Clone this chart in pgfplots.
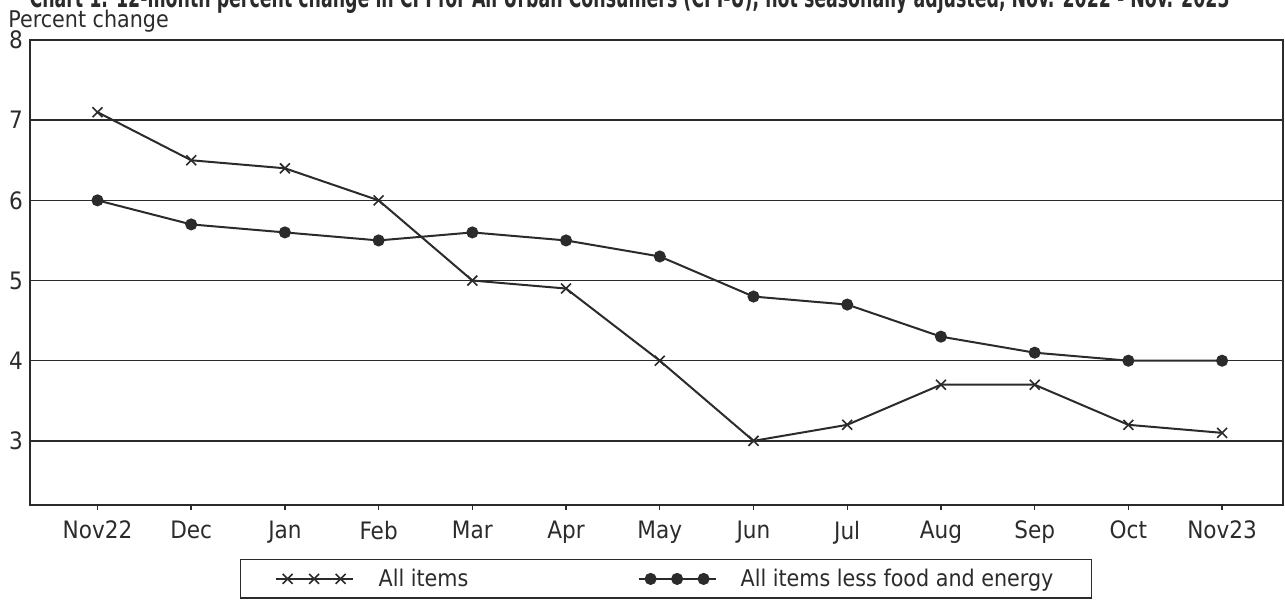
\documentclass[border=0pt]{standalone}
\usepackage{pgfplots}
\pgfplotsset{compat=1.18}
\usepackage{fontspec}
\setmainfont{DejaVu Sans Condensed}
\definecolor{ink}{HTML}{2B2B2B}
\pgfplotsset{
  legX/.style={legend image code/.code={%
    \draw[##1, mark=none] (0pt,0pt) -- (38.5pt,0pt);
    \draw[##1, mark repeat=1] plot coordinates {(6pt,0pt) (19.25pt,0pt) (32.5pt,0pt)};}},
}
\begin{document}
\begin{tikzpicture}
\begin{axis}[
  at={(0pt,0pt)}, anchor=south west,
  scale only axis, width=626.5pt, height=232.5pt,
  xmin=-0.72, xmax=12.65, ymin=2.2, ymax=8,
  xtick={0,...,12},
  xticklabels={Nov22,Dec,Jan,Feb,Mar,Apr,May,Jun,Jul,Aug,Sep,Oct,Nov23},
  ytick={3,4,5,6,7,8},
  tick pos=left,
  ymajorgrids,
  grid style={ink, line width=0.7pt},
  axis line style={ink, line width=0.8pt},
  xtick align=outside,
  major tick length=2.5pt,
  x tick style={ink, line width=0.7pt},
  y tick style={draw=none},
  tick label style={font=\fontsize{12}{14}\selectfont, text=ink},
  /pgf/number format/assume math mode=true,
  xticklabel style={yshift=-2pt},
  legend style={at={(0.5076,-0.159)}, anchor=center, draw=ink, line width=0.7pt,
    font=\fontsize{11.5}{14}\selectfont, text=ink, inner xsep=17pt, inner ysep=2.5pt,
    /tikz/every even column/.append style={column sep=0pt}},
  legend columns=2,
  legend cell align=left,
]
\addplot[ink, line width=1pt, mark=x, mark size=3.5pt, mark options={line width=0.8pt}, legX]
  coordinates {(0,7.1) (1,6.5) (2,6.4) (3,6.0) (4,5.0) (5,4.9) (6,4.0) (7,3.0) (8,3.2) (9,3.7) (10,3.7) (11,3.2) (12,3.1)};
\addlegendentry{\makebox[138pt][l]{\hspace{10.5pt}All items}}
\addplot[ink, line width=1pt, mark=*, mark size=2.5pt, legX]
  coordinates {(0,6.0) (1,5.7) (2,5.6) (3,5.5) (4,5.6) (5,5.5) (6,5.3) (7,4.8) (8,4.7) (9,4.3) (10,4.1) (11,4.0) (12,4.0)};
\addlegendentry{\hspace{10pt}All items less food and energy}
\end{axis}
\node[anchor=base west, inner sep=0pt, font=\fontsize{11.5}{14}\selectfont, text=ink] at (-11pt,238.5pt) {Percent change};
\node[anchor=base east, inner sep=0pt, font=\bfseries\fontsize{14}{16}\selectfont, text=ink] at (600pt,248.5pt)
  {\resizebox{600pt}{\height}{Chart 1. 12-month percent change in CPI for All Urban Consumers (CPI-U), not seasonally adjusted, Nov. 2022 - Nov. 2023}};
\pgfresetboundingbox
\useasboundingbox (-15pt,-47.5pt) rectangle (627.5pt,252.5pt);
\end{tikzpicture}
\end{document}
